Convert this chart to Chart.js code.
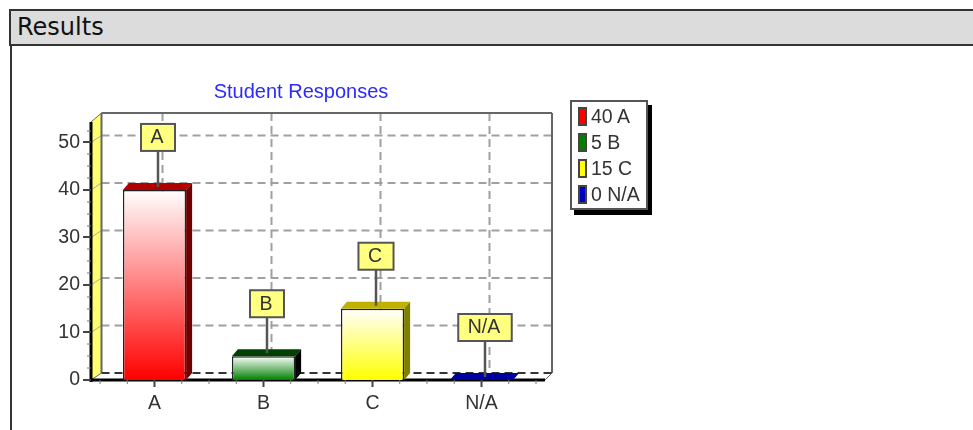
<!DOCTYPE html>
<html>
<head>
<meta charset="utf-8">
<script src="https://cdn.jsdelivr.net/npm/chart.js@4/dist/chart.umd.min.js"></script>
<style>
  html, body { margin: 0; padding: 0; background: #fff; overflow: hidden; }
  body { width: 973px; height: 430px; position: relative; filter: blur(0.5px); }
  #header {
    position: absolute; left: 9px; top: 9px; width: 964px; height: 33px;
    background: #dcdcdc; border: 2px solid #333; border-right: 0;
    font: 24px "DejaVu Sans"; color: #111; line-height: 32px; text-indent: 6px;
  }
  #leftline { position: absolute; left: 10px; top: 44px; width: 2px; height: 386px; background: #333; }
  #chart { position: absolute; left: 0; top: 0; }
  #legend {
    position: absolute; left: 570px; top: 100px; width: 74px; height: 106px;
    background: #fff; border: 2px solid #555; box-shadow: 4px 5px 0 #000;
    font: 19.5px "Liberation Sans"; color: #333;
  }
  .row { position: absolute; left: 6px; height: 18px; white-space: nowrap; line-height: 18px; }
  .swatch { position: absolute; left: 0; top: 0; width: 5px; height: 15px; border: 2px solid #444; }
  .row span { position: absolute; left: 13px; top: 0; }
</style>
</head>
<body>
<canvas id="chart" width="602" height="430"></canvas>
<div id="header">Results</div>
<div id="leftline"></div>
<div id="legend"></div>
<script>
const categories = ["A", "B", "C", "N/A"];
const responses = [40, 5, 15, 0];
const yTicks = [0, 10, 20, 30, 40, 50];
const yMax = 54.3;
const chartTitle = "Student Responses";

const frontColors = ["#ff0000", "#008000", "#ffff00", "#0000c0"];
const topColors = ["#b00000", "#004000", "#c0b000", "#0000a0"];
const sideColors = ["#700000", "#000000", "#808000", "#000080"];

const depthX = 8; // wall offset
const depthY = 7;
const barDepthX = 6;

// legend box next to the chart
const legend = document.getElementById("legend");
categories.forEach((cat, i) => {
  const row = document.createElement("div");
  row.className = "row";
  row.style.top = 5 + i * 26 + "px";
  row.innerHTML =
    '<div class="swatch" style="background:' + frontColors[i] + '"></div>' +
    "<span>" + responses[i] + " " + cat + "</span>";
  legend.appendChild(row);
});

function poly(ctx, pts, fill) {
  ctx.beginPath();
  pts.forEach((p, i) => (i ? ctx.lineTo(p[0], p[1]) : ctx.moveTo(p[0], p[1])));
  ctx.closePath();
  ctx.fillStyle = fill;
  ctx.fill();
}

function seg(ctx, x1, y1, x2, y2, color, width, dash) {
  ctx.beginPath();
  ctx.setLineDash(dash || []);
  ctx.strokeStyle = color;
  ctx.lineWidth = width;
  ctx.moveTo(x1, y1);
  ctx.lineTo(x2, y2);
  ctx.stroke();
  ctx.setLineDash([]);
}

const wallsPlugin = {
  id: "walls",
  afterLayout(chart) {
    // title sits over the walls, not the whole canvas
    chart.titleBlock.left = 66;
  },
  beforeDatasetsDraw(chart) {
    const { ctx, chartArea: a, scales } = chart;
    const y = scales.y, x = scales.x;
    const left = a.left - 9, right = a.right + 9;
    const wallX = left + 10.5;
    const backRight = right + 7;
    const top = a.top, bottom = a.bottom;
    ctx.save();

    // yellow left wall
    poly(ctx, [[left, top], [wallX, top - 9], [wallX, bottom - depthY], [left, bottom]], "#ffff70");

    // dashed grid on the back wall
    const dash = [8, 5];
    yTicks.slice(1).forEach(v => {
      const py = y.getPixelForValue(v);
      seg(ctx, wallX, py - depthY, backRight, py - depthY, "#a0a0a0", 2, dash);
      seg(ctx, left, py, wallX, py - depthY, "#aaa", 1);
    });
    categories.forEach((c, i) => {
      const px = x.getPixelForValue(i) + depthX;
      seg(ctx, px, top - 9, px, bottom - depthY, "#a0a0a0", 2, dash);
    });

    // back wall border and floor
    seg(ctx, wallX, top - 9, backRight, top - 9, "#666", 2);
    seg(ctx, backRight, top - 9, backRight, bottom - depthY, "#666", 2);
    seg(ctx, wallX, top - 9, wallX, bottom - depthY, "#666", 2);
    seg(ctx, wallX, bottom - depthY, backRight, bottom - depthY, "#333", 2, dash);
    seg(ctx, backRight, bottom - depthY, right, bottom, "#666", 1);
    seg(ctx, left, bottom, wallX, bottom - depthY, "#666", 1);
    seg(ctx, left, top, wallX, top - 9, "#666", 1);

    // front axes and their tick marks
    seg(ctx, left, top, left, bottom + 2, "#000", 3);
    seg(ctx, left, bottom, right, bottom, "#000", 3);
    for (let v = 0; v <= 52.5; v += 2.5) {
      const major = v % 10 === 0;
      const py = Math.round(y.getPixelForValue(v));
      seg(ctx, left - (major ? 8 : 4), py, left, py, major ? "#444" : "#777", major ? 2 : 1);
    }
    const step = (x.right - x.left) / categories.length / 4;
    for (let k = 0; k <= categories.length * 4; k++) {
      const major = k % 4 === 2;
      const px = x.left + k * step;
      seg(ctx, px, bottom, px, bottom + (major ? 7 : 4), major ? "#444" : "#777", major ? 2 : 1);
    }
    ctx.restore();
  },
  afterDatasetsDraw(chart) {
    const { ctx } = chart;
    const bars = chart.getDatasetMeta(0).data;
    ctx.save();
    bars.forEach((bar, i) => {
      const half = bar.width / 2;
      const l = bar.x - half, r = bar.x + half, t = bar.y, b = bar.base;
      // top and right faces of the block
      poly(ctx, [[l, t], [l + barDepthX, t - depthY], [r + barDepthX, t - depthY], [r, t]], topColors[i]);
      if (b > t) {
        poly(ctx, [[r, t], [r + barDepthX, t - depthY], [r + barDepthX, b - depthY], [r, b]], sideColors[i]);
      }

      // callout with stem
      const sx = bar.x + 3.5;
      const boxBottom = t - 39;
      seg(ctx, sx, boxBottom, sx, t - 3, "#555", 2.5);
      ctx.font = "19.5px 'Liberation Sans'";
      const w = ctx.measureText(categories[i]).width + 21;
      const bx = sx - w / 2, by = boxBottom - 27;
      ctx.fillStyle = "#ffff80";
      ctx.strokeStyle = "#555";
      ctx.lineWidth = 2;
      ctx.fillRect(bx, by, w, 27);
      ctx.strokeRect(bx, by, w, 27);
      ctx.fillStyle = "#333";
      ctx.textAlign = "center";
      ctx.textBaseline = "middle";
      ctx.fillText(categories[i], sx - 1, by + 14);
    });
    ctx.restore();
  }
};

new Chart(document.getElementById("chart"), {
  type: "bar",
  data: {
    labels: categories,
    datasets: [{
      data: responses,
      barPercentage: 0.58,
      categoryPercentage: 1,
      borderColor: "#222",
      borderWidth: 1.5,
      backgroundColor(context) {
        const i = context.dataIndex;
        const y = context.chart.scales.y;
        if (!y || i === undefined) return frontColors[0];
        const top = y.getPixelForValue(responses[i]);
        const base = y.getPixelForValue(0);
        if (!isFinite(top) || !isFinite(base) || base === top) return frontColors[i];
        const g = context.chart.ctx.createLinearGradient(0, top, 0, base);
        g.addColorStop(0, "#ffffff");
        g.addColorStop(1, frontColors[i]);
        return g;
      }
    }]
  },
  options: {
    responsive: false,
    animation: false,
    layout: { padding: { right: 66 } },
    plugins: {
      legend: { display: false },
      tooltip: { enabled: false },
      title: {
        display: true,
        text: chartTitle,
        color: "#2a2aff",
        font: { family: "Liberation Sans", size: 20, weight: "normal" },
        padding: { top: 80, bottom: 18 }
      }
    },
    scales: {
      x: {
        afterFit(scale) { scale.height = 50; },
        grid: { display: false, drawTicks: false },
        border: { display: false },
        ticks: { color: "#333", padding: 12, font: { family: "Liberation Sans", size: 19.5 } }
      },
      y: {
        min: 0,
        max: yMax,
        afterFit(scale) { scale.width = 100; },
        afterBuildTicks(scale) { scale.ticks = yTicks.map(v => ({ value: v })); },
        grid: { display: false, drawTicks: false },
        border: { display: false },
        ticks: { color: "#333", padding: 20, font: { family: "Liberation Sans", size: 19.5 } }
      }
    }
  },
  plugins: [wallsPlugin]
});
</script>
</body>
</html>
